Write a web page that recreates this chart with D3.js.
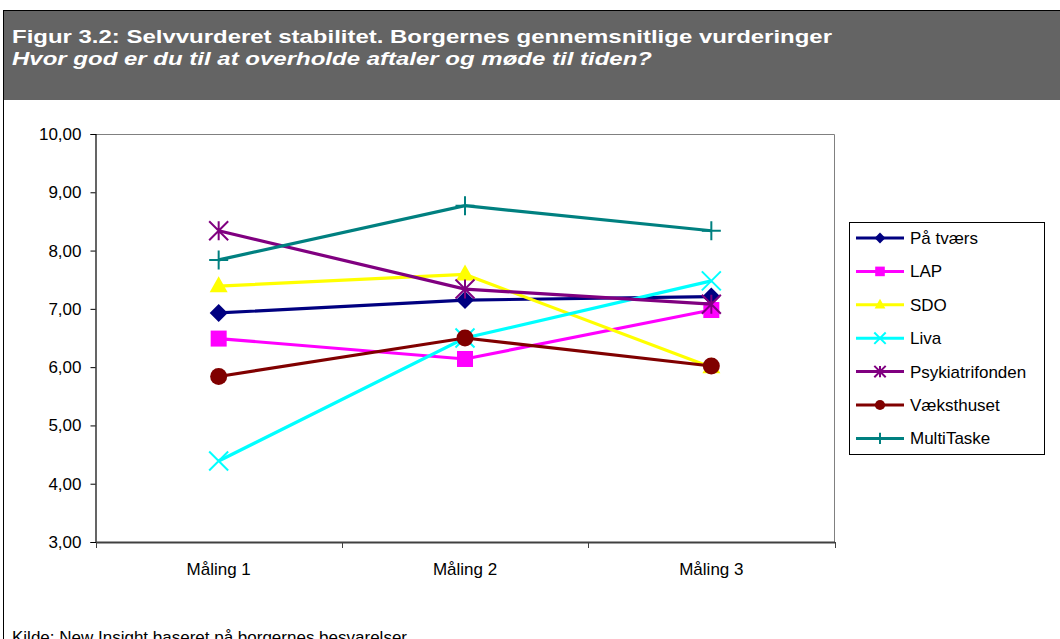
<!DOCTYPE html>
<html>
<head>
<meta charset="utf-8">
<script src="https://cdn.jsdelivr.net/npm/d3@7"></script>
<style>
html,body{margin:0;padding:0;background:#fff;}
svg{display:block;font-family:"Liberation Sans",Arial,sans-serif;}
</style>
</head>
<body>
<svg id="chart" width="1060" height="639"></svg>
<script>
// ---- data ----
const categories = ["Måling 1", "Måling 2", "Måling 3"];
const seriesNames = ["På tværs", "LAP", "SDO", "Liva", "Psykiatrifonden", "Væksthuset", "MultiTaske"];
const paTvaers = [6.93, 7.15, 7.21];
const lap = [6.49, 6.14, 6.98];
const sdo = [7.39, 7.59, 6.00];
const liva = [4.39, 6.50, 7.48];
const psykiatrifonden = [8.34, 7.34, 7.08];
const vaeksthuset = [5.84, 6.50, 6.02];
const multiTaske = [7.84, 8.77, 8.34];
const yTicks = [3, 4, 5, 6, 7, 8, 9, 10];
const titleLine1 = "Figur 3.2: Selvvurderet stabilitet. Borgernes gennemsnitlige vurderinger";
const titleLine2 = "Hvor god er du til at overholde aftaler og møde til tiden?";
const sourceText = "Kilde: New Insight baseret på borgernes besvarelser";

const seriesValues = [paTvaers, lap, sdo, liva, psykiatrifonden, vaeksthuset, multiTaske];
const colors = ["#000080", "#FF00FF", "#FFFF00", "#00FFFF", "#800080", "#800000", "#008080"];
const markers = ["diamond", "square", "triangle", "x", "asterisk", "circle", "plus"];

const svg = d3.select("#chart");

// ---- header ----
svg.append("rect").attr("x", 3).attr("y", 10).attr("width", 1057).attr("height", 90).attr("fill", "#646464");
svg.append("line").attr("x1", 3).attr("x2", 1060).attr("y1", 10.5).attr("y2", 10.5).attr("stroke", "#000").attr("stroke-width", 1);
svg.append("line").attr("x1", 3.5).attr("x2", 3.5).attr("y1", 10).attr("y2", 639).attr("stroke", "#000").attr("stroke-width", 1);

svg.append("text").attr("x", 12).attr("y", 43).attr("fill", "#fff")
  .attr("font-weight", "bold").attr("font-size", 19)
  .attr("textLength", 820).attr("lengthAdjust", "spacingAndGlyphs").text(titleLine1);
svg.append("text").attr("x", 12).attr("y", 65).attr("fill", "#fff")
  .attr("font-weight", "bold").attr("font-style", "italic").attr("font-size", 19)
  .attr("textLength", 640).attr("lengthAdjust", "spacingAndGlyphs").text(titleLine2);

// ---- plot ----
const pLeft = 95.5, pRight = 834.5, pTop = 134, pBottom = 542;
const x = d3.scaleBand().domain(categories).range([pLeft, pRight]);
const y = d3.scaleLinear().domain([3, 10]).range([pBottom, pTop]);

// plot border (top & right, gray)
svg.append("path").attr("d", `M${pLeft},${pTop + 0.5}H${pRight}V${pBottom}`)
  .attr("fill", "none").attr("stroke", "#808080").attr("stroke-width", 1);

// y axis
const yAxis = d3.axisLeft(y).tickValues(yTicks).tickSize(5).tickPadding(9)
  .tickFormat(d => d3.format(".2f")(d).replace(".", ","));
const gy = svg.append("g").attr("transform", `translate(${pLeft},0)`).call(yAxis);
gy.select(".domain").attr("stroke", "#000").attr("stroke-width", 1.2);
gy.selectAll(".tick line").attr("stroke", "#000");
gy.selectAll(".tick text").attr("font-size", 17).attr("font-family", "Liberation Sans, Arial, sans-serif").attr("fill", "#000");

// x axis
const xAxis = d3.axisBottom(x).tickSize(0).tickPadding(21);
const gx = svg.append("g").attr("transform", `translate(0,${pBottom})`).call(xAxis);
gx.select(".domain").attr("stroke", "#404040").attr("stroke-width", 2);
gx.selectAll(".tick text").attr("font-size", 17).attr("font-family", "Liberation Sans, Arial, sans-serif").attr("fill", "#000");
// boundary ticks between categories
const boundaries = categories.map(c => x(c)).concat([x.range()[1]]);
svg.selectAll(".xbound").data(boundaries).enter().append("line")
  .attr("x1", d => Math.round(d) + 0.5).attr("x2", d => Math.round(d) + 0.5)
  .attr("y1", pBottom).attr("y2", pBottom + 6).attr("stroke", "#404040").attr("stroke-width", 1);

// marker drawing
function drawMarker(g, type, cx, cy, color, s) {
  const h = 9 * s;
  if (type === "diamond") {
    g.append("path").attr("d", `M${cx},${cy - h}L${cx + h},${cy}L${cx},${cy + h}L${cx - h},${cy}Z`).attr("fill", color);
  } else if (type === "square") {
    const a = 8 * s;
    g.append("rect").attr("x", cx - a).attr("y", cy - a).attr("width", 2 * a).attr("height", 2 * a).attr("fill", color);
  } else if (type === "triangle") {
    const a = 9 * s, ht = 16 * s;
    g.append("path").attr("d", `M${cx},${cy - ht * 0.62}L${cx + a},${cy + ht * 0.38}L${cx - a},${cy + ht * 0.38}Z`).attr("fill", color);
  } else if (type === "circle") {
    g.append("circle").attr("cx", cx).attr("cy", cy).attr("r", 8.5 * s).attr("fill", color);
  } else if (type === "x") {
    const a = 9.5 * s;
    g.append("path").attr("d", `M${cx - a},${cy - a}L${cx + a},${cy + a}M${cx - a},${cy + a}L${cx + a},${cy - a}`)
      .attr("stroke", color).attr("stroke-width", 2).attr("fill", "none");
  } else if (type === "asterisk") {
    const a = 9.5 * s;
    g.append("path").attr("d", `M${cx - a},${cy - a}L${cx + a},${cy + a}M${cx - a},${cy + a}L${cx + a},${cy - a}M${cx},${cy - a}V${cy + a}`)
      .attr("stroke", color).attr("stroke-width", 2).attr("fill", "none");
  } else if (type === "plus") {
    const a = 9.5 * s;
    g.append("path").attr("d", `M${cx - a},${cy}H${cx + a}M${cx},${cy - a}V${cy + a}`)
      .attr("stroke", color).attr("stroke-width", 2).attr("fill", "none");
  }
}

const line = d3.line().x((d, i) => x(categories[i]) + x.bandwidth() / 2).y(d => y(d));
seriesValues.forEach((vals, si) => {
  const g = svg.append("g");
  g.append("path").attr("d", line(vals)).attr("fill", "none").attr("stroke", colors[si]).attr("stroke-width", 3.2);
  vals.forEach((v, i) => drawMarker(g, markers[si], x(categories[i]) + x.bandwidth() / 2, y(v), colors[si], 1));
});

// ---- legend ----
const lg = svg.append("g");
lg.append("rect").attr("x", 849.5).attr("y", 222.5).attr("width", 195).attr("height", 232)
  .attr("fill", "#fff").attr("stroke", "#000").attr("stroke-width", 1);
seriesNames.forEach((name, si) => {
  const cy = 238 + si * 33.4;
  lg.append("line").attr("x1", 856).attr("x2", 904).attr("y1", cy).attr("y2", cy)
    .attr("stroke", colors[si]).attr("stroke-width", 3);
  drawMarker(lg, markers[si], 880, cy, colors[si], 0.6);
  lg.append("text").attr("x", 910).attr("y", cy + 6).attr("font-size", 17).attr("fill", "#000").text(name);
});

// ---- source ----
svg.append("text").attr("x", 12).attr("y", 643).attr("font-size", 17).attr("fill", "#000").text(sourceText);
</script>
</body>
</html>
